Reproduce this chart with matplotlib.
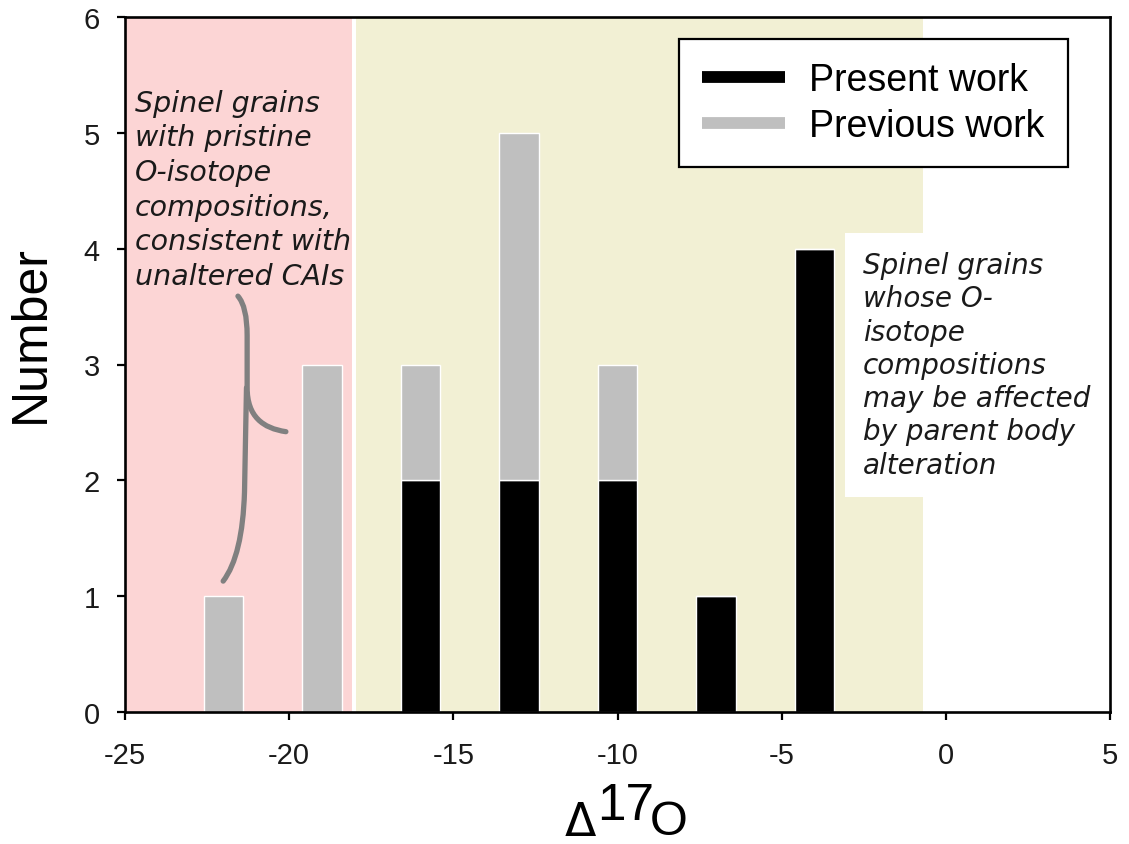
import matplotlib.pyplot as plt
from matplotlib.lines import Line2D
from matplotlib.path import Path
from matplotlib.patches import PathPatch

# Histogram of Δ17O for spinel grains, stacked by source
bin_centers = [-22, -19, -16, -13, -10, -7, -4]
present_work = [0, 0, 2, 2, 2, 1, 4]
previous_work = [1, 3, 1, 3, 1, 0, 0]

pristine_range = (-25, -18.1)
altered_range = (-17.95, -0.7)

x_ticks = [-25, -20, -15, -10, -5, 0, 5]
y_ticks = [0, 1, 2, 3, 4, 5, 6]

left_note = ("Spinel grains\nwith pristine\nO-isotope\ncompositions,\n"
             "consistent with\nunaltered CAIs")
right_note = ("Spinel grains\nwhose O-\nisotope\ncompositions\n"
              "may be affected\nby parent body\nalteration")

W, H = 1129, 845
fig = plt.figure(figsize=(W / 100, H / 100), dpi=100)
ax = fig.add_axes([125 / W, 132 / H, 985 / W, 695 / H])

ax.axvspan(*pristine_range, color='#fcd5d5', lw=0, zorder=0)
ax.axvspan(*altered_range, color='#f2f0d4', lw=0, zorder=0)

ax.bar(bin_centers, present_work, width=1.2, color='black',
       edgecolor='white', linewidth=1, zorder=2)
ax.bar(bin_centers, previous_work, width=1.2, bottom=present_work,
       color='#bfbfbf', edgecolor='white', linewidth=1, zorder=2)

ax.set_xlim(-25, 5)
ax.set_ylim(0, 6)
ax.set_xticks(x_ticks)
ax.set_yticks(y_ticks)
ax.set_xticklabels([str(t) for t in x_ticks])
for s in ax.spines.values():
    s.set_linewidth(1.9)
    s.set_zorder(5)
ax.tick_params(direction='out', length=6, width=1.6, labelsize=21,
               labelcolor='#1a1a1a')
ax.tick_params(axis='x', pad=15)
ax.tick_params(axis='y', pad=12)
for lab in ax.get_xticklabels() + ax.get_yticklabels():
    lab.set_fontfamily('Liberation Sans')

# axis labels
fig.text(31 / W, 1 - 334 / H, 'Number', rotation=90, ha='center', va='center',
         fontsize=36, family='Liberation Sans')
fig.text(565 / W, 1 - 836 / H, '\u0394', ha='left', va='baseline',
         fontsize=33, family='DejaVu Sans')
fig.text(597 / W, 1 - 820 / H, '17', ha='left', va='baseline',
         fontsize=37, family='Liberation Sans')
fig.text(650 / W, 1 - 835 / H, 'O', ha='left', va='baseline',
         fontsize=35, family='Liberation Sans')

# legend
handles = [Line2D([], [], color='black', lw=8.5, solid_capstyle='butt'),
           Line2D([], [], color='#bfbfbf', lw=8.5, solid_capstyle='butt')]
leg = ax.legend(handles, ['Present work', 'Previous work'], loc='upper right',
                bbox_to_anchor=(0.957, 0.968), borderaxespad=0, fancybox=False,
                edgecolor='black', framealpha=1, handlelength=2.2,
                handletextpad=0.65, borderpad=0.62, labelspacing=0.26,
                prop={'family': 'Liberation Sans', 'size': 27})
leg.get_frame().set_linewidth(1.6)
leg.set_zorder(6)

# notes
ax.text(-24.70, 5.38, left_note, ha='left', va='top', fontsize=20.5,
        style='italic', family='DejaVu Sans', linespacing=1.3,
        color='#1a1a1a', zorder=4)
ax.text(-2.52, 3.98, right_note, ha='left', va='top', fontsize=20,
        style='italic', family='DejaVu Sans', linespacing=1.24,
        color='#1a1a1a', zorder=4,
        bbox=dict(boxstyle='square,pad=0.65', fc='white', ec='none'))

# curly bracket pointing from the left note to the pristine bars
upper = Path([(-21.56, 3.59), (-21.28, 3.50), (-21.28, 3.25),
              (-21.28, 2.80),
              (-21.28, 2.55), (-20.80, 2.45), (-20.10, 2.42)],
             [Path.MOVETO, Path.CURVE3, Path.CURVE3, Path.LINETO,
              Path.CURVE4, Path.CURVE4, Path.CURVE4])
lower = Path([(-21.30, 2.80), (-21.36, 1.90), (-21.42, 1.35), (-22.01, 1.13)],
             [Path.MOVETO, Path.LINETO, Path.CURVE3, Path.CURVE3])
for p in (upper, lower):
    ax.add_patch(PathPatch(p, fc='none', ec='#808080', lw=3.8,
                           capstyle='round', zorder=3))

fig.savefig('out.png', dpi=100)
